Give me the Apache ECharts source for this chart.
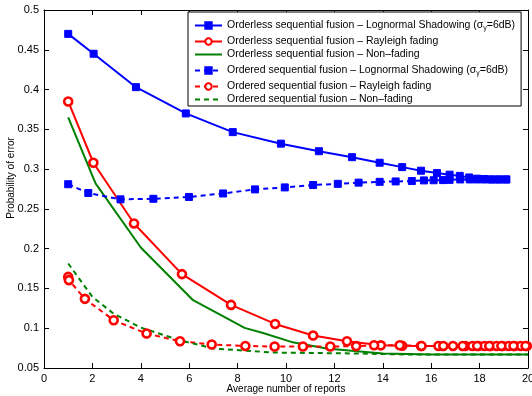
<!DOCTYPE html>
<html><head><meta charset="utf-8">
<script src="https://cdn.jsdelivr.net/npm/echarts@6/dist/echarts.min.js"></script>
<style>html,body{margin:0;padding:0;background:#fff}#c{width:532px;height:396px}</style>
</head><body><div id="c"></div>
<script>
const xTicks = [0, 20, 2];
const yTicks = [0.05, 0.5, 0.05];
const names = [
  'Orderless sequential fusion \u2013 Lognormal Shadowing (\u03c3\u03b3=6dB)',
  'Orderless sequential fusion \u2013 Rayleigh fading',
  'Orderless sequential fusion \u2013 Non\u2013fading',
  'Ordered sequential fusion \u2013 Lognormal Shadowing (\u03c3\u03b3=6dB)',
  'Ordered sequential fusion \u2013 Rayleigh fading',
  'Ordered sequential fusion \u2013 Non\u2013fading'
];
const blueSolidX = [1, 2.05, 3.8, 5.86, 7.8, 9.79, 11.36, 12.73, 13.87, 14.8, 15.58, 16.24, 16.76, 17.18, 17.57, 17.9, 18.2, 18.5, 18.8, 19.1];
const blueSolidY = [0.47, 0.445, 0.403, 0.370, 0.3465, 0.332, 0.3225, 0.315, 0.308, 0.3025, 0.298, 0.295, 0.293, 0.2915, 0.2895, 0.288, 0.2875, 0.287, 0.287, 0.287];
const blueDashX = [1, 1.83, 3.16, 4.52, 5.99, 7.4, 8.72, 9.95, 11.12, 12.14, 13.0, 13.87, 14.53, 15.2, 15.7, 16.1, 16.49, 16.76, 17.2, 17.6, 17.9, 18.2, 18.5, 18.8, 19.1];
const blueDashY = [0.281, 0.270, 0.262, 0.2627, 0.265, 0.2694, 0.2745, 0.277, 0.280, 0.2815, 0.283, 0.284, 0.2845, 0.285, 0.2858, 0.286, 0.2862, 0.2865, 0.287, 0.287, 0.287, 0.287, 0.287, 0.287, 0.287];
const redSolidX = [1, 2.04, 3.72, 5.7, 7.73, 9.55, 11.12, 12.52, 13.92, 14.8, 15.58, 16.3, 16.9, 17.41, 17.7, 17.95, 18.2, 18.45, 18.7, 18.95, 19.2, 19.45, 19.7, 19.95];
const redSolidY = [0.385, 0.308, 0.2317, 0.168, 0.1293, 0.1054, 0.0908, 0.0836, 0.0785, 0.078, 0.0777, 0.0777, 0.0777, 0.0777, 0.0777, 0.0777, 0.0777, 0.0777, 0.0777, 0.0777, 0.0777, 0.0777, 0.0777, 0.0777];
const redDashX = [1, 1.03, 1.69, 2.88, 4.24, 5.62, 6.93, 8.32, 9.53, 10.7, 11.83, 12.9, 13.64, 14.7, 15.6, 16.5, 17.3, 17.9, 18.4, 18.9, 19.4, 19.9];
const redDashY = [0.1645, 0.1604, 0.1369, 0.110, 0.0933, 0.0836, 0.0795, 0.0777, 0.077, 0.077, 0.077, 0.0775, 0.0786, 0.0786, 0.0777, 0.0777, 0.0777, 0.0777, 0.0777, 0.0777, 0.0777, 0.0777];
const greenSolidX = [1, 2.13, 4.0, 6.16, 8.29, 9.05, 10.22, 11.67, 14.0, 16.0, 20];
const greenSolidY = [0.365, 0.282, 0.2015, 0.1352, 0.1004, 0.094, 0.0828, 0.0745, 0.0682, 0.067, 0.067];
const greenDashX = [1, 2.0, 2.87, 4.0, 5.6, 7.0, 9.5, 13.0, 15.0, 20];
const greenDashY = [0.1814, 0.1394, 0.1185, 0.1008, 0.085, 0.0745, 0.0694, 0.0682, 0.067, 0.067];

const zip = (xs, ys) => xs.map((x, i) => [x, ys[i]]);
const BLUE = '#0000ff', RED = '#ff0000', GREEN = '#008000';
function mk(name, xs, ys, color, dashed, symbol) {
  const s = {
    name, type: 'line', data: zip(xs, ys), animation: false,
    lineStyle: { color, width: 2, type: dashed ? [5, 4] : 'solid' },
    itemStyle: { color },
    symbol: 'none', z: 3
  };
  if (symbol === 'sq') {
    s.symbol = 'rect'; s.symbolSize = 7; s.showAllSymbol = true;
    s.itemStyle = { color, borderColor: color, borderWidth: 1 };
  } else if (symbol === 'ci') {
    s.symbol = 'circle'; s.symbolSize = 8; s.showAllSymbol = true;
    s.itemStyle = { color: '#fff', borderColor: color, borderWidth: 2.6 };
  }
  return s;
}
const axisCommon = {
  axisLine: { show: true, onZero: false, lineStyle: { color: '#000', width: 1 } },
  axisTick: { show: true, inside: true, length: 5, lineStyle: { color: '#000' } },
  splitLine: { show: false }
};
const legendData = names.map((n, i) => (i === 2 || i === 5) ? { name: n, itemStyle: { opacity: 0 } } : { name: n });
const chart = echarts.init(document.getElementById('c'));
chart.setOption({
  backgroundColor: '#fff',
  textStyle: { fontFamily: 'Liberation Sans, Arial, sans-serif' },
  grid: { left: 44, right: 4, top: 10, bottom: 28, outerBoundsMode: 'none', containLabel: false },
  xAxis: [
    Object.assign({ type: 'value', min: xTicks[0], max: xTicks[1], interval: xTicks[2], position: 'bottom',
      axisLabel: { color: '#000', fontSize: 11, margin: 5 },
      name: 'Average number of reports', nameLocation: 'middle', nameGap: 16, nameMoveOverlap: false,
      nameTextStyle: { color: '#000', fontSize: 10 } }, axisCommon),
    Object.assign({ type: 'value', min: xTicks[0], max: xTicks[1], interval: xTicks[2], position: 'top',
      axisLabel: { show: false } }, axisCommon)
  ],
  yAxis: [
    Object.assign({ type: 'value', min: yTicks[0], max: yTicks[1], interval: yTicks[2], position: 'left',
      axisLabel: { color: '#000', fontSize: 11, margin: 5 },
      name: 'Probability of error', nameLocation: 'middle', nameGap: 28, nameMoveOverlap: false,
      nameTextStyle: { color: '#000', fontSize: 10, padding: [0, 0, 0, 22] } }, axisCommon),
    Object.assign({ type: 'value', min: yTicks[0], max: yTicks[1], interval: yTicks[2], position: 'right',
      axisLabel: { show: false } }, axisCommon)
  ],
  legend: {
    orient: 'vertical', left: 188, top: 12, itemWidth: 27, itemHeight: 8, itemGap: 0,
    padding: [4, 6, 0, 6], backgroundColor: '#fff', borderColor: '#000', borderWidth: 1,
    data: legendData,
    textStyle: { color: '#000', fontSize: 10.5, lineHeight: 13,
      rich: { s: { fontSize: 7, lineHeight: 19, padding: [6, 0, 0, 0] } } },
    formatter: n => n.replace('\u03c3\u03b3', '\u03c3{s|\u03b3}')
  },
  series: [
    mk(names[0], blueSolidX, blueSolidY, BLUE, false, 'sq'),
    mk(names[1], redSolidX, redSolidY, RED, false, 'ci'),
    mk(names[2], greenSolidX, greenSolidY, GREEN, false, null),
    mk(names[3], blueDashX, blueDashY, BLUE, true, 'sq'),
    mk(names[4], redDashX, redDashY, RED, true, 'ci'),
    mk(names[5], greenDashX, greenDashY, GREEN, true, null)
  ]
});
</script></body></html>
